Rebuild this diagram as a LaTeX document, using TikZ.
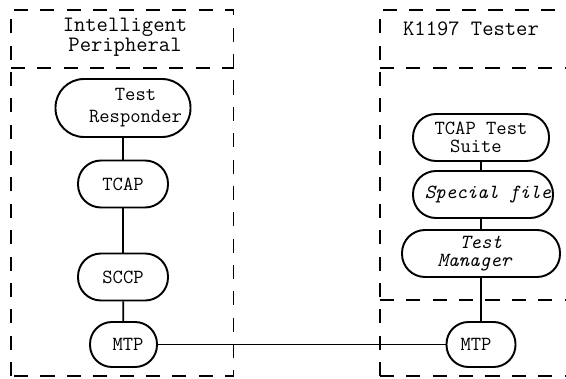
\documentclass[tikz,border=0pt]{standalone}
\usepackage{fontspec}
\usepackage{tikz}
\usetikzlibrary{backgrounds}
\pgfdeclarelayer{edgelayer}
\pgfdeclarelayer{nodelayer}
\pgfsetlayers{edgelayer,nodelayer,main}
\tikzstyle{layer}=[rectangle, draw=black, line width=1.1pt, rounded corners=0.46cm, minimum width=1.8cm, minimum height=0.94cm, inner sep=0pt, align=center, font=\ttfamily\fontsize{11.4}{12}\selectfont]
\tikzstyle{title}=[align=center, inner sep=0pt, font=\ttfamily\fontsize{12.5}{11.4}\selectfont]
\tikzstyle{frame}=[draw=black, line width=1.1pt, dash pattern=on 8pt off 7pt]
\tikzstyle{link}=[-, draw=black, line width=1.000]

\begin{document}
\begin{tikzpicture}
            \useasboundingbox (0, 0) rectangle (11.32, 7.56);
            \begin{pgfonlayer}{nodelayer}
                \node [style=title] (ip) at (2.50, 6.82) {Intelligent\\Peripheral};
                \node [style=title] (tester) at (9.42, 6.98) {K1197 Tester};

                \node [style=layer, minimum width=2.7cm, minimum height=1.16cm, rounded corners=0.57cm] (resp) at (2.46, 5.40) {\hspace*{0.5cm}Test\\[0.5pt]\hspace*{0.5cm}Responder};
                \node [style=layer] (tcap) at (2.46, 3.88) {TCAP};
                \node [style=layer] (sccp) at (2.46, 2.02) {SCCP};
                \node [style=layer, minimum width=1.34cm, minimum height=0.9cm, rounded corners=0.44cm] (mtpA) at (2.47, 0.67) {\raisebox{-0.15cm}{\hspace*{0.18cm}MTP}};

                \node [style=layer, minimum width=2.72cm] (suite) at (9.62, 4.81) {TCAP Test\\[-1.5pt]Suite\hspace*{0.2cm}};
                \node [style=layer, minimum width=2.8cm] (file) at (9.66, 3.67) {\itshape\hspace*{0.2cm}Special file};
                \node [style=layer, minimum width=3.16cm] (mgr) at (9.62, 2.49) {\itshape Test\\[-1.5pt]\itshape Manager\hspace*{0.26cm}};
                \node [style=layer, minimum width=1.38cm, minimum height=0.9cm, rounded corners=0.44cm] (mtpB) at (9.62, 0.67) {\raisebox{-0.06cm}{MTP\hspace*{0.2cm}}};
            \end{pgfonlayer}
            \begin{pgfonlayer}{edgelayer}
                % dashed frames
                \draw [style=frame] (0.22, 0.04) rectangle (4.67, 7.36);
                \draw [style=frame] (0.22, 6.20) -- (4.67, 6.20);
                \draw [style=frame] (7.60, 0.04) -- (7.60, 7.36) -- (11.32, 7.36);
                \draw [style=frame] (7.60, 6.20) -- (11.32, 6.20);
                \draw [style=frame] (7.60, 1.56) -- (11.32, 1.56);
                \draw [style=frame] (7.60, 0.04) -- (11.32, 0.04);

                \draw [style=link] (resp) to (tcap);
                \draw [style=link] (tcap) to (sccp);
                \draw [style=link] (sccp) to (mtpA);
                \draw [style=link] (mtpA) to (mtpB);

                \draw [style=link] (suite.south) to (suite.south |- file.north);
                \draw [style=link] (mgr.north |- file.south) to (mgr.north);
                \draw [style=link] (mgr) to (mtpB);
            \end{pgfonlayer}
        \end{tikzpicture}
\end{document}
